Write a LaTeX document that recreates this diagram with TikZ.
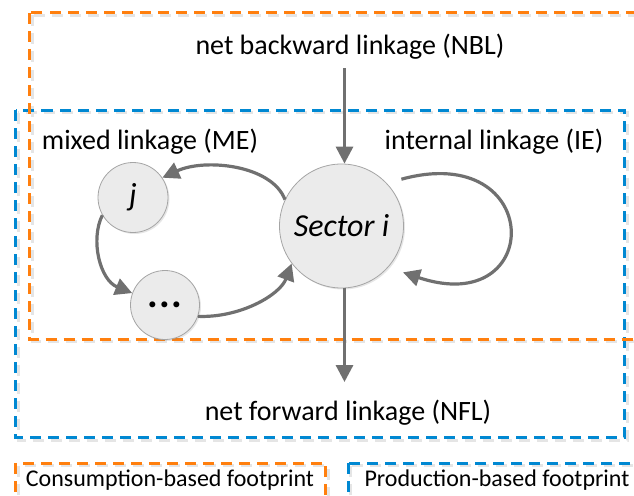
\documentclass[tikz,border=0pt]{standalone}
\usepackage{fontspec}
\setmainfont{Carlito}
\usetikzlibrary{arrows.meta,shadows,calc}
\definecolor{orangeb}{RGB}{255,127,14}
\definecolor{blueb}{RGB}{0,136,210}
\definecolor{arrowgray}{RGB}{112,112,112}
\definecolor{circfill}{RGB}{235,235,235}
\definecolor{circline}{RGB}{165,165,165}
\begin{document}
\begin{tikzpicture}[x=1pt,y=-1pt,
  dashbox/.style={line width=3pt, dash pattern=on 11pt off 7pt},
  shadowbox/.style={dashbox, draw=black!10, xshift=2.5pt, yshift=-2.5pt},
  sectorball/.style={circle, fill=circfill, draw=circline, line width=0.8pt, inner sep=0pt,
    drop shadow={shadow xshift=1.5pt,shadow yshift=-1.5pt,opacity=0.2}},
  lab/.style={font=\fontsize{28}{32}\selectfont, inner sep=0pt},
  leg/.style={font=\fontsize{24}{28}\selectfont, inner sep=0pt},
  link/.style={draw=arrowgray, line width=3.2pt, -{Triangle[length=17pt,width=17pt]}},
]
\useasboundingbox (0,0) rectangle (634,495);
% dashed boxes (shadows first)
\draw[shadowbox] (15.5,110) rectangle (624.5,437.5);
\draw[shadowbox] (29.5,13) rectangle (700,339);
\draw[shadowbox] (15.5,463) rectangle (325.5,540);
\draw[shadowbox] (348,463) rectangle (700,540);
\draw[dashbox, draw=blueb] (15.5,110) rectangle (624.5,437.5);
\draw[dashbox, draw=orangeb] (29.5,13) rectangle (700,339);
\draw[dashbox, draw=orangeb] (15.5,463) rectangle (325.5,540);
\draw[dashbox, draw=blueb] (348,463) rectangle (700,540);
% labels
\node[lab] (nbl) at (350,47) {net backward linkage (NBL)};
\node[lab] (nfl) at (348,413) {net forward linkage (NFL)};
\node[lab] (me) at (150,142) {mixed linkage (ME)};
\node[lab] (ie) at (494,141.5) {internal linkage (IE)};
\node[leg] (cbf) at (170,480.5) {Consumption-based footprint};
\node[leg] (pbf) at (497,480.5) {Production-based footprint};
% circles
\node[sectorball, minimum size=124pt] (si) at (341.5,226) {\fontsize{32}{36}\selectfont\itshape Sector i};
\node[sectorball, minimum size=70pt] (j) at (133,197.5) {\fontsize{32}{36}\selectfont\itshape j};
\node[sectorball, minimum size=69pt] (dots) at (165,305) {\fontsize{40}{44}\selectfont\bfseries .\hspace{1.5pt}.\hspace{1.5pt}.};
% arrows
\coordinate (nbltail) at (344.5,68);
\coordinate (nflhead) at (344.5,382);
\draw[link] (nbltail) -- (nbltail |- si.north);
\draw[link] (nflhead |- si.south) -- (nflhead);
\draw[link] (si.155) .. controls (272,165) and (205,158) .. (j.34);
\draw[link] (j.210) .. controls (90,240) and (100,280) .. (dots.160);
\draw[link] (dots.-19) .. controls (240,318) and (280,295) .. (si.217);
\draw[link] ($(si.center)!76pt!(si.38)$) .. controls (545,140) and (545,320) .. ($(si.center)!77pt!(si.-37)$);
\end{tikzpicture}
\end{document}
